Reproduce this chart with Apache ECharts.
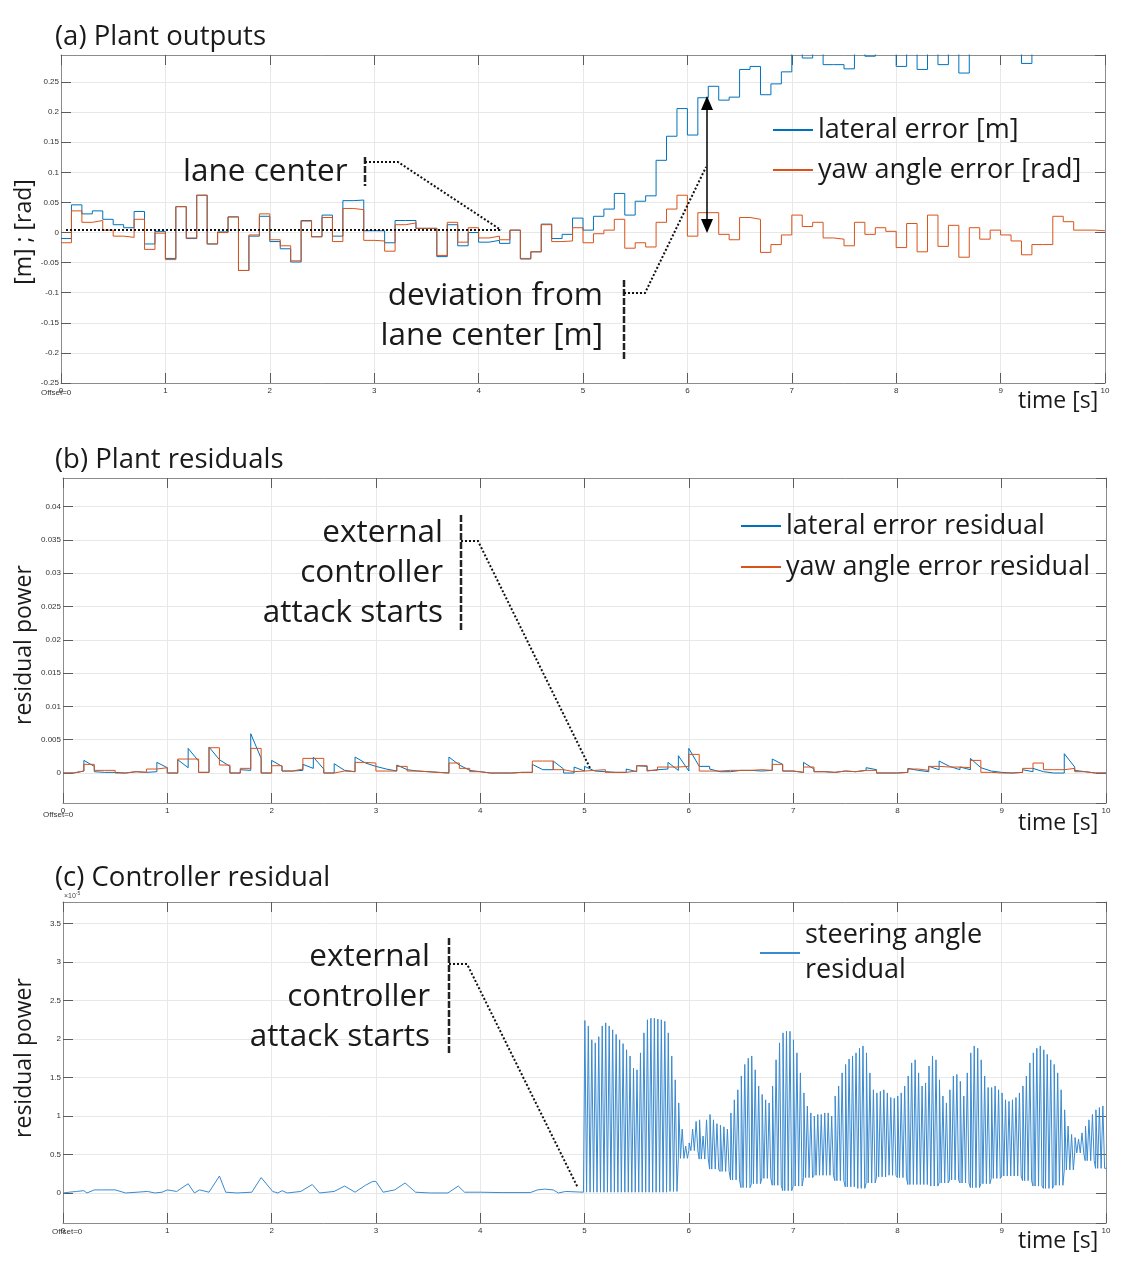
<!DOCTYPE html>
<html>
<head>
<meta charset="utf-8">
<script src="https://cdn.jsdelivr.net/npm/echarts@6.0.0/dist/echarts.min.js"></script>
<style>
  html, body { margin: 0; padding: 0; background: #fff; }
  #chart { width: 1133px; height: 1271px; }
</style>
</head>
<body>
<div id="chart"></div>
<script>
// ---- data ----
// (a) plant outputs, one value per 0.1 s step
const latErr = [
  -0.010, 0.046, 0.031, 0.036, 0.022, 0.013, 0.008, 0.035, -0.019, 0.002,
  -0.043, 0.043, -0.010, 0.062, -0.019, 0.001, 0.026, -0.063, -0.006, 0.027,
  -0.015, -0.027, -0.049, 0.020, -0.007, 0.029, -0.006, 0.053, 0.054, 0.003,
  0.003, -0.017, 0.020, 0.020, 0.007, 0.007, -0.040, 0.013, -0.022, 0.000,
  -0.016, -0.013, -0.018, 0.004, -0.044, -0.032, 0.014, -0.010, -0.003, 0.024,
  0.004, 0.027, 0.039, 0.065, 0.029, 0.052, 0.061, 0.120, 0.160, 0.206,
  0.162, 0.224, 0.243, 0.220, 0.225, 0.271, 0.276, 0.229, 0.247, 0.267,
  0.310, 0.290, 0.310, 0.279, 0.279, 0.272, 0.310, 0.293, 0.310, 0.310,
  0.276, 0.310, 0.271, 0.310, 0.279, 0.310, 0.265, 0.310, 0.310, 0.310,
  0.310, 0.310, 0.281, 0.310, 0.310, 0.310, 0.310, 0.310, 0.310, 0.310
];
const yawErr = [
  -0.017, 0.036, 0.017, 0.020, 0.004, -0.006, -0.008, 0.022, -0.028, -0.001,
  -0.045, 0.043, -0.009, 0.062, -0.019, 0.000, 0.026, -0.063, -0.004, 0.031,
  -0.012, -0.022, -0.047, 0.019, -0.007, 0.025, -0.015, 0.040, 0.038, -0.013,
  -0.014, -0.031, 0.013, 0.016, 0.007, 0.007, -0.038, 0.017, -0.016, 0.008,
  -0.009, -0.006, -0.012, 0.004, -0.043, -0.032, 0.013, -0.015, -0.014, 0.008,
  -0.017, -0.002, 0.004, 0.022, -0.026, -0.017, -0.024, 0.017, 0.039, 0.062,
  -0.006, 0.033, 0.033, -0.003, -0.012, 0.025, 0.022, -0.033, -0.020, -0.004,
  0.029, 0.010, 0.017, -0.009, -0.011, -0.022, 0.017, -0.003, 0.008, 0.002,
  -0.025, 0.015, -0.032, 0.029, -0.023, 0.012, -0.041, 0.008, -0.011, 0.004,
  -0.004, -0.014, -0.037, -0.020, -0.020, 0.027, 0.018, 0.004, 0.004, 0.003
];

// (b) plant residuals: lateral residual = value at start / end of each 0.1 s step
const latResPeak = [
  0.0000, 0.0003, 0.0019, 0.0002, 0.0001, 0.0000, 0.0003, 0.0001, 0.0004, 0.0016,
  0.0000, 0.0020, 0.0037, 0.0001, 0.0039, 0.0019, 0.0000, 0.0005, 0.0059, 0.0000,
  0.0019, 0.0003, 0.0004, 0.0013, 0.0024, 0.0000, 0.0014, 0.0002, 0.0024, 0.0015,
  0.0010, 0.0006, 0.0012, 0.0003, 0.0002, 0.0001, 0.0000, 0.0024, 0.0009, 0.0002,
  0.0000, 0.0000, 0.0000, 0.0001, 0.0001, 0.0013, 0.0005, 0.0018, 0.0000, 0.0009,
  0.0010, 0.0002, 0.0001, 0.0001, 0.0006, 0.0011, 0.0003, 0.0006, 0.0016, 0.0026,
  0.0037, 0.0010, 0.0006, 0.0005, 0.0004, 0.0004, 0.0006, 0.0004, 0.0021, 0.0003,
  0.0001, 0.0016, 0.0002, 0.0001, 0.0003, 0.0002, 0.0004, 0.0008, 0.0000, 0.0000,
  0.0001, 0.0007, 0.0005, 0.0010, 0.0018, 0.0010, 0.0009, 0.0022, 0.0007, 0.0004,
  0.0000, 0.0001, 0.0005, 0.0007, 0.0000, 0.0000, 0.0029, 0.0004, 0.0000, 0.0000
];
const latResEnd = [
  0.0000, 0.0003, 0.0010, 0.0001, 0.0001, 0.0000, 0.0002, 0.0001, 0.0002, 0.0008,
  0.0000, 0.0008, 0.0018, 0.0001, 0.0020, 0.0010, 0.0000, 0.0004, 0.0022, 0.0000,
  0.0010, 0.0003, 0.0004, 0.0007, 0.0006, 0.0000, 0.0004, 0.0002, 0.0015, 0.0010,
  0.0006, 0.0003, 0.0005, 0.0003, 0.0002, 0.0001, 0.0000, 0.0012, 0.0004, 0.0002,
  0.0000, 0.0000, 0.0000, 0.0001, 0.0001, 0.0005, 0.0005, 0.0006, 0.0000, 0.0003,
  0.0003, 0.0002, 0.0001, 0.0001, 0.0002, 0.0010, 0.0005, 0.0006, 0.0004, 0.0003,
  0.0010, 0.0010, 0.0002, 0.0002, 0.0004, 0.0004, 0.0003, 0.0004, 0.0013, 0.0003,
  0.0001, 0.0006, 0.0002, 0.0001, 0.0003, 0.0002, 0.0004, 0.0005, 0.0000, 0.0000,
  0.0001, 0.0004, 0.0002, 0.0005, 0.0010, 0.0005, 0.0005, 0.0008, 0.0003, 0.0001,
  0.0000, 0.0001, 0.0002, 0.0002, 0.0000, 0.0000, 0.0009, 0.0002, 0.0000, 0.0000
];
const yawRes = [
  0.0000, 0.0003, 0.0013, 0.0004, 0.0004, 0.0000, 0.0002, 0.0001, 0.0006, 0.0008,
  0.0000, 0.0021, 0.0021, 0.0001, 0.0038, 0.0012, 0.0000, 0.0007, 0.0037, 0.0000,
  0.0011, 0.0003, 0.0006, 0.0022, 0.0022, 0.0000, 0.0003, 0.0002, 0.0016, 0.0015,
  0.0003, 0.0003, 0.0010, 0.0003, 0.0002, 0.0001, 0.0000, 0.0015, 0.0007, 0.0002,
  0.0000, 0.0000, 0.0000, 0.0001, 0.0001, 0.0018, 0.0018, 0.0005, 0.0002, 0.0003,
  0.0004, 0.0005, 0.0001, 0.0001, 0.0003, 0.0011, 0.0004, 0.0009, 0.0009, 0.0010,
  0.0028, 0.0003, 0.0003, 0.0004, 0.0004, 0.0004, 0.0005, 0.0004, 0.0013, 0.0003,
  0.0001, 0.0009, 0.0002, 0.0001, 0.0003, 0.0002, 0.0004, 0.0004, 0.0000, 0.0000,
  0.0001, 0.0006, 0.0004, 0.0010, 0.0009, 0.0009, 0.0008, 0.0019, 0.0001, 0.0000,
  0.0000, 0.0001, 0.0007, 0.0015, 0.0005, 0.0005, 0.0007, 0.0002, 0.0000, 0.0000
];

// (c) controller residual (x1e-5): before the attack, read point by point
const steerPreT = [0, 0.06, 0.13, 0.2, 0.23, 0.3, 0.37, 0.5, 0.6, 0.71,
  0.81, 0.88, 0.95, 1.0, 1.09, 1.2, 1.26, 1.31, 1.4, 1.5,
  1.56, 1.67, 1.81, 1.9, 2.01, 2.06, 2.1, 2.15, 2.28, 2.39,
  2.46, 2.6, 2.7, 2.8, 2.9, 2.97, 3.0, 3.07, 3.18, 3.28,
  3.38, 3.52, 3.69, 3.79, 3.85, 4.0, 4.2, 4.48, 4.55, 4.62,
  4.7, 4.75, 4.82, 4.99];
const steerPreV = [0, 0.01, 0.02, 0.03, 0, 0.04, 0.04, 0.04, 0, 0.01,
  0.02, 0, 0.01, 0.04, 0.02, 0.12, 0, 0.04, 0.01, 0.22,
  0.01, 0, 0.01, 0.2, 0.02, 0, 0.03, 0, 0.02, 0.11,
  0, 0.02, 0.09, 0.01, 0.1, 0.15, 0.15, 0.01, 0.04, 0.13,
  0.01, 0, 0, 0.09, 0.01, 0.01, 0.005, 0.005, 0.04, 0.05,
  0.04, 0, 0.02, 0.01];
// after the attack (t >= 5 s): peak of every oscillation (period 1/30 s)
const steerHigh = [
  2.24, 2.17, 1.99, 1.95, 2.03, 2.17, 2.21, 2.17, 2.12, 2.06,
  1.99, 1.94, 1.86, 1.78, 1.62, 1.60, 1.82, 2.08, 2.25, 2.27,
  2.27, 2.26, 2.25, 2.23, 2.08, 1.78, 1.47, 1.17, 0.83, 0.61,
  0.65, 0.83, 0.93, 0.95, 0.74, 0.95, 1.02, 0.95, 0.90, 0.88,
  0.86, 0.83, 1.04, 1.21, 1.34, 1.52, 1.67, 1.75, 1.78, 1.60,
  1.39, 1.28, 1.21, 1.17, 1.39, 1.73, 1.95, 2.08, 2.10, 2.10,
  1.99, 1.82, 1.56, 1.30, 1.13, 1.04, 1.00, 1.02, 1.02, 1.04,
  1.04, 1.00, 1.26, 1.39, 1.56, 1.67, 1.74, 1.78, 1.82, 1.88,
  1.91, 1.82, 1.56, 1.34, 1.30, 1.32, 1.34, 1.30, 1.24, 1.23,
  1.26, 1.30, 1.39, 1.52, 1.69, 1.73, 1.56, 1.39, 1.43, 1.65,
  1.78, 1.73, 1.47, 1.26, 1.17, 1.34, 1.52, 1.54, 1.45, 1.26,
  1.56, 1.82, 1.91, 1.88, 1.73, 1.52, 1.37, 1.37, 1.39, 1.34,
  1.30, 1.21, 1.19, 1.21, 1.24, 1.30, 1.39, 1.52, 1.69, 1.82,
  1.88, 1.91, 1.86, 1.80, 1.73, 1.67, 1.56, 1.34, 1.08, 0.87,
  0.76, 0.72, 0.70, 0.78, 0.87, 0.95, 1.02, 1.08, 1.11, 1.13
];
// trough level, one per 0.1 s
const steerLow = [
  0.01, 0.01, 0.01, 0.01, 0.01, 0.01, 0.01, 0.01, 0.02, 0.45,
  0.55, 0.44, 0.31, 0.28, 0.17, 0.07, 0.12, 0.19, 0.10, 0.03,
  0.09, 0.20, 0.23, 0.23, 0.16, 0.08, 0.06, 0.13, 0.21, 0.23,
  0.20, 0.11, 0.11, 0.09, 0.13, 0.17, 0.13, 0.07, 0.12, 0.19,
  0.22, 0.22, 0.16, 0.09, 0.06, 0.10, 0.30, 0.52, 0.42, 0.32
];

const STEP = 0.1;
const ATTACK_T = 5;
const OSC_PERIOD = 1 / 30;

// ---- build series data ----
function stepData(vals) {
  const out = vals.map((v, i) => [i * STEP, v]);
  out.push([vals.length * STEP, vals[vals.length - 1]]);
  return out;
}

function sawData(peak, end) {
  const out = [];
  peak.forEach((p, k) => {
    out.push([k * STEP, p]);
    out.push([(k + 1) * STEP, end[k]]);
  });
  return out;
}

function steerData() {
  const out = steerPreT.map((t, i) => [t, steerPreV[i]]);
  steerHigh.forEach((hi, i) => {
    const t0 = ATTACK_T + i * OSC_PERIOD;
    const lo = steerLow[Math.floor(i / 3)];
    out.push([t0, lo]);
    out.push([t0 + OSC_PERIOD * 0.1, hi]);
    out.push([t0 + OSC_PERIOD * 0.5, hi]);
    out.push([t0 + OSC_PERIOD * 0.6, lo]);
  });
  out.push([10, steerLow[steerLow.length - 1]]);
  return out;
}

// ---- styling ----
const BLUE = '#0072BD';
const ORANGE = '#D95319';
const AX_LINE = '#8c8c8c';
const TICK = '#5c5c5c';
const GRID = '#e8e8e8';
const TXT = '#1a1a1a';
const BIG = '"Open Sans", "Noto Sans", sans-serif';
const SMALL = '"Liberation Sans", Arial, sans-serif';

const grids = [
  {left: 61, top: 55, width: 1044, height: 328},
  {left: 63, top: 478, width: 1043, height: 325},
  {left: 63, top: 902, width: 1043, height: 321}
];

function xAxes(gi) {
  const base = {gridIndex: gi, type: 'value', min: 0, max: 10, interval: 1,
    axisLine: {show: true, onZero: false, lineStyle: {color: AX_LINE}},
    axisTick: {show: true, inside: true, length: 10, lineStyle: {color: TICK}}};
  return [
    Object.assign({}, base, {position: 'bottom',
      axisLabel: {fontSize: 8, color: '#333', margin: 4, fontFamily: SMALL},
      splitLine: {show: true, lineStyle: {color: GRID}}}),
    Object.assign({}, base, {position: 'top',
      axisLabel: {show: false}, splitLine: {show: false}})
  ];
}

function yAxes(gi, range) {
  const base = Object.assign({gridIndex: gi, type: 'value',
    axisLine: {show: true, onZero: false, lineStyle: {color: AX_LINE}},
    axisTick: {show: true, inside: true, length: 10, lineStyle: {color: TICK}}}, range);
  return [
    Object.assign({}, base, {position: 'left',
      axisLabel: {fontSize: 8, color: '#333', margin: 2, fontFamily: SMALL,
        showMaxLabel: false, showMinLabel: range.showMin,
        formatter: v => String(+v.toFixed(4))},
      splitLine: {show: true, lineStyle: {color: GRID}}}),
    Object.assign({}, base, {position: 'right',
      axisLabel: {show: false}, splitLine: {show: false}})
  ];
}

function lineSeries(name, gi, data, color, extra) {
  return Object.assign({
    type: 'line', name: name, xAxisIndex: gi * 2, yAxisIndex: gi * 2, data: data,
    showSymbol: false, symbol: 'none', animation: false, clip: true,
    lineStyle: {color: color, width: 1}, itemStyle: {color: color}
  }, extra || {});
}

function legend(names, left, top, lineH, gap, fmt) {
  return {
    left: left, top: top, orient: 'vertical', icon: 'rect', itemWidth: 40, itemHeight: 2,
    itemGap: gap, itemTextGap: 11, selectedMode: false, data: names,
    textStyle: {fontSize: 27, color: TXT, fontFamily: BIG, lineHeight: lineH},
    formatter: fmt || (n => n)
  };
}

// ---- annotations (callout text, brackets, dotted leaders) ----
const dotted = {stroke: '#111', lineWidth: 2, lineDash: [2, 2], fill: null};
const bracket = {stroke: '#222', lineWidth: 2.5, lineDash: [7, 2]};

function text(x, y, str, size, align, extra) {
  return {type: 'text', z: 100, x: x, y: y, style: Object.assign({
    text: str, fontSize: size, fontFamily: BIG, fill: TXT,
    textAlign: align || 'left', textVerticalAlign: 'middle'}, extra || {})};
}
function line(x1, y1, x2, y2, style) {
  return {type: 'line', z: 100, shape: {x1: x1, y1: y1, x2: x2, y2: y2}, style: style};
}
function poly(points, style) {
  return {type: 'polyline', z: 100, shape: {points: points}, style: style};
}
function callout(textX, textY, lines, bx, by1, by2, leader) {
  return [
    text(textX, textY, lines.join('\n'), 31.5, 'right', {lineHeight: 40}),
    line(bx, by1, bx, by2, bracket),
    poly(leader, dotted)
  ];
}

const graphics = [
  text(55, 37, '(a) Plant outputs', 27.5),
  text(55, 460, '(b) Plant residuals', 27.5),
  text(55, 878, '(c) Controller residual', 27.5),
  text(1018, 401, 'time [s]', 23),
  text(1018, 823, 'time [s]', 23),
  text(1018, 1241, 'time [s]', 23),
  Object.assign(text(24, 232, '[m] ; [rad]', 23, 'center'), {rotation: Math.PI / 2}),
  Object.assign(text(24, 645, 'residual power', 23, 'center'), {rotation: Math.PI / 2}),
  Object.assign(text(24, 1058, 'residual power', 23, 'center'), {rotation: Math.PI / 2}),
  text(41, 393, 'Offset=0', 8, 'left', {fontFamily: SMALL, fill: '#333'}),
  text(43, 815, 'Offset=0', 8, 'left', {fontFamily: SMALL, fill: '#333'}),
  text(52, 1232, 'Offset=0', 8, 'left', {fontFamily: SMALL, fill: '#333'}),
  {type: 'text', z: 100, x: 64, y: 896, style: {
    text: '{a|×10}{b|-5}', textVerticalAlign: 'middle',
    rich: {a: {fontSize: 7, fontFamily: SMALL, fill: '#444'},
           b: {fontSize: 5, fontFamily: SMALL, fill: '#444', verticalAlign: 'top', padding: [0, 0, 5, 0]}}}},

  // (a) lane center
  line(66, 230, 501, 230, dotted),
  text(183, 172, 'lane center', 31.5),
  line(365, 157, 365, 186, bracket),
  poly([[365, 162], [398, 162], [501, 230]], dotted),
  // (a) deviation from lane center
  ...callout(603, 316, ['deviation from', 'lane center [m]'], 624, 280, 359,
    [[624, 293], [645, 293], [706, 167]]),
  line(707, 108, 707, 221, {stroke: '#000', lineWidth: 1.5}),
  {type: 'polygon', z: 100, shape: {points: [[707, 96], [701, 110], [713, 110]]}, style: {fill: '#000'}},
  {type: 'polygon', z: 100, shape: {points: [[707, 233], [701, 219], [713, 219]]}, style: {fill: '#000'}},

  // (b) attack starts
  ...callout(443, 573, ['external', 'controller', 'attack starts'], 461, 515, 630,
    [[461, 541], [478, 541], [590, 768]]),
  // (c) attack starts
  ...callout(430, 997, ['external', 'controller', 'attack starts'], 449, 938, 1054,
    [[449, 964], [467, 964], [578, 1188]])
];

// ---- chart ----
const chart = echarts.init(document.getElementById('chart'), null, {renderer: 'canvas'});
chart.setOption({
  backgroundColor: '#fff',
  animation: false,
  grid: grids,
  xAxis: [...xAxes(0), ...xAxes(1), ...xAxes(2)],
  yAxis: [
    ...yAxes(0, {min: -0.25, max: 0.295, interval: 0.05, showMin: true}),
    ...yAxes(1, {min: -0.0045, max: 0.0443, splitNumber: 10, showMin: false}),
    ...yAxes(2, {min: -0.39, max: 3.78, splitNumber: 8, showMin: false})
  ],
  legend: [
    legend(['lateral error [m]', 'yaw angle error [rad]'], 768, 110, 30, 10),
    legend(['lateral error residual', 'yaw angle error residual'], 736, 506, 30, 11),
    legend(['steering angle residual'], 755, 913, 35, 10, () => 'steering angle\nresidual')
  ],
  series: [
    lineSeries('lateral error [m]', 0, stepData(latErr), BLUE, {step: 'end'}),
    lineSeries('yaw angle error [rad]', 0, stepData(yawErr), ORANGE, {step: 'end'}),
    lineSeries('lateral error residual', 1, sawData(latResPeak, latResEnd), BLUE),
    lineSeries('yaw angle error residual', 1, stepData(yawRes), ORANGE, {step: 'end'}),
    lineSeries('steering angle residual', 2, steerData(), '#3a8ad0', {lineStyle: {color: '#3a8ad0', width: 1}})
  ],
  graphic: graphics
});
</script>
</body>
</html>
